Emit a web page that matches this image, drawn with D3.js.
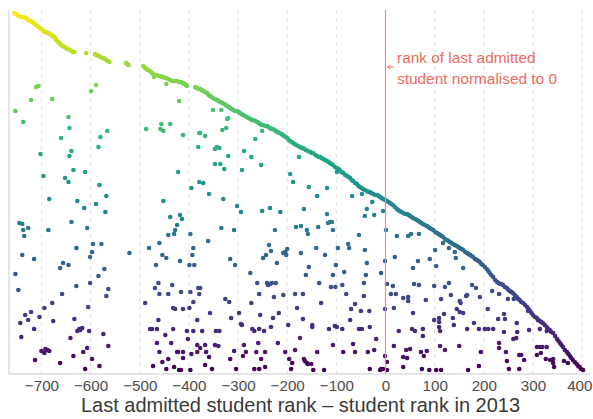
<!DOCTYPE html>
<html><head><meta charset="utf-8">
<script src="https://cdn.jsdelivr.net/npm/d3@7/dist/d3.min.js"></script>
<style>
html,body{margin:0;padding:0;background:#fff;}
svg{display:block;font-family:"Liberation Sans",Arial,sans-serif;}
</style></head>
<body>
<svg id="chart" width="593" height="419"></svg>
<script>
// x: last admitted student rank - student rank in 2013 ; y: position (unlabelled)
const xTicks = [-700,-600,-500,-400,-300,-200,-100,0,100,200,300,400];
const xTitle = "Last admitted student rank \u2013 student rank in 2013";
const noteLines = ["rank of last admitted", "student normalised to 0"];
const cutoff = 0;

// dense upper frontier of students
const envelopePoints = [
[-755,359],[-753,358],[-751,358],[-749,357],[-747,356],[-742,355],[-737,355],[-734,354],[-731,354],[-729,353],
[-727,352],[-724,351],[-721,351],[-719,350],[-717,349],[-714,348],[-711,347],[-708,346],[-706,345],[-703,344],
[-700,343],[-698,342],[-696,341],[-693,340],[-690,340],[-688,339],[-686,339],[-683,338],[-680,337],[-678,336],
[-676,336],[-674,335],[-672,334],[-670,332],[-668,331],[-666,330],[-664,329],[-662,328],[-660,327],[-658,326],
[-656,326],[-653,325],[-650,324],[-648,323],[-645,323],[-642,322],[-639,321],[-636,320],[-633,320],
[-609,319],[-591,318],[-589,317],[-587,317],[-584,316],[-580,315],[-577,314],[-574,314],[-571,313],[-568,312],
[-565,311],[-562,310],[-528,309],[-526,308],[-523,307],
[-493,306],[-491,305],[-489,304],[-486,303],[-483,302],[-480,301],[-477,300],[-475,299],[-473,298],[-471,295],
[-468,297],[-465,297],[-461,296],[-458,296],[-455,295],[-452,295],[-449,294],[-446,294],[-442,293],[-438,292],
[-434,291],[-430,291],[-427,291],[-424,291],[-420,290],[-416,290],[-414,289],[-412,289],[-410,288],[-408,288],
[-406,287],[-404,286],
[-387,285],[-385,284],[-383,284],[-380,283],[-377,283],[-374,282],[-371,281],[-367,280],[-363,279],[-360,277],
[-357,276],[-354,275],[-351,274],[-347,273],[-343,272],[-340,271],[-336,270],[-332,269],[-328,268],[-325,267],
[-322,266],[-319,265],[-316,264],[-313,263],[-310,262],[-306,261],[-302,261],[-299,260],[-296,259],[-293,258],
[-290,257],[-286,256],[-282,255],[-279,254],[-275,253],[-272,252],[-269,252],[-265,251],[-261,250],[-258,249],
[-255,248],[-252,247],[-249,247],[-245,246],[-241,246],[-238,245],[-235,244],[-232,243],[-229,243],[-226,242],
[-223,241],[-221,240],[-219,240],[-216,239],[-212,238],[-209,237],[-206,236],[-203,235],[-200,234],[-197,232],
[-194,231],[-191,230],[-188,229],[-185,228],[-182,227],[-178,226],[-174,225],[-171,224],[-168,224],[-165,223],
[-162,222],[-158,221],[-153,220],[-150,219],[-147,219],[-143,217],[-139,216],[-136,215],[-133,215],[-130,214],
[-127,213],[-123,212],[-119,211],[-116,210],[-113,209],[-110,208],[-107,207],[-103,205],[-99,204],[-96,203],
[-93,202],[-90,200],[-86,199],[-82,197],[-78,196],[-75,195],[-72,194],[-69,192],[-66,191],[-62,189],
[-58,188],[-55,186],[-52,185],[-49,184],[-46,183],[-42,182],[-38,181],[-35,180],[-32,180],[-29,179],
[-25,178],[-21,177],[-17,177],[-14,176],[-11,175],[-8,174],[-5,173],[-1,172],[3,171],[6,170],
[9,169],[12,168],[15,167],[19,165],[23,163],[26,162],[29,161],[32,160],[36,159],[40,158],
[44,158],[47,157],[50,156],[53,155],[56,154],[60,153],[64,152],[67,151],[70,150],[73,149],
[76,148],[80,147],[84,146],[87,145],[90,144],[93,143],[97,142],[101,140],[105,139],[108,138],
[111,137],[114,136],[117,135],[121,133],[125,132],[128,131],[131,130],[134,129],[137,128],[141,127],
[145,126],[148,125],[151,124],[155,123],[158,122],[162,120],[166,119],[169,118],[172,117],[175,116],
[178,115],[182,113],[186,112],[189,111],[192,110],[195,108],[198,107],[202,105],[206,103],[209,101],
[212,99],[215,97],[219,95],[223,92],[227,90],[230,89],[233,88],[236,88],[239,87],[243,85],
[247,84],[250,82],[253,81],[256,80],[259,79],[263,77],[267,75],[270,73],[273,72],[276,70],
[280,69],[284,67],[288,65],[291,63],[294,61],[297,59],[300,57],[304,55],[308,54],[311,52],
[314,51],[317,50],[320,49],[324,47],[328,45],[331,43],[334,42],[337,40],[341,39],[345,36],
[349,33],[352,31],[355,29],[358,27],[361,25],[365,22],[369,20],[372,18],[375,16],[378,14],
[381,12],[385,10],[389,8],[392,6],[395,5],[398,3],[402,2]
];

// students below the frontier
const scatterPoints = [
[-711,285],[-706,286],[-721,272],[-678,273],[-753,261],[-737,250],[-645,255],[-643,244],[-660,234],[-599,281],
[-589,287],[-580,235],[-566,241],[-487,243],[-456,248],[-458,243],[-452,241],[-438,248],[-446,288],[-420,271],
[-412,237],[-379,239],
[-702,218],[-639,221],[-643,216],[-584,225],[-381,225],[-696,196],[-635,202],[-611,200],[-652,194],[-645,190],
[-422,200],[-379,190],[-582,187],[-395,184],[-684,173],[-627,171],[-568,176],[-589,168],[-452,171],[-613,164],
[-570,160],[-418,157],[-414,153],[-438,155],[-745,149],[-739,148],[-727,144],[-737,142],[-639,150],[-686,142],
[-607,144],[-735,136],[-424,147],[-428,142],[-430,138],[-442,137],[-397,138],[-595,128],[-578,128],[-460,129],
[-629,124],[-481,124],[-391,124],[-597,120],[-601,115],[-739,117],[-715,113],[-521,119],[-454,117],[-446,114],
[-393,117],[-418,111],[-656,109],[-645,107],[-662,104],[-572,103],[-467,107],[-399,107],[-389,107],
[-753,98],[-747,82],[-629,86],[-601,89],[-584,96],[-658,78],[-564,83],[-568,76],[-678,69],[-694,64],
[-605,65],[-721,60],[-733,57],[-704,55],[-727,52],[-633,53],[-743,49],[-676,51],[-715,43],[-623,43],
[-627,41],[-617,44],[-621,42],[-603,41],[-741,35],[-574,38],[-641,34],[-564,26],[-607,24],[-692,23],
[-700,21],[-694,19],[-684,21],[-688,22],[-615,20],[-635,16],[-713,12],[-597,13],[-662,9],[-582,6],
[-611,3],[-489,69],[-469,84],[-462,89],[-460,78],[-442,78],[-434,87],[-416,80],[-397,80],[-381,84],
[-379,78],[-391,70],[-432,64],[-428,63],[-412,63],[-399,64],[-462,52],[-383,52],[-479,43],[-475,43],
[-465,43],[-448,37],[-432,43],[-404,41],[-391,41],[-465,29],[-436,29],[-402,33],[-383,27],[-460,20],
[-442,13],[-424,20],[-422,20],[-412,20],[-412,14],[-395,18],[-473,6],[-454,10],[-446,3],[-430,5],
[-420,2],[-416,2],[-397,2],
[-377,239],[-367,236],[-332,242],[-347,223],[-343,225],[-338,224],[-320,216],[-288,221],[-273,215],[-265,233],
[-251,241],[-347,208],[-336,208],[-328,203],[-292,202],[-253,207],[-176,215],[-194,198],[-188,190],[-371,189],
[-359,178],[-330,173],[-302,166],[-294,160],[-251,161],[-235,164],[-214,160],[-156,185],[-119,184],[-139,176],
[-166,163],[-119,158],[-117,149],[-113,150],[-109,150],[-99,200],[-68,176],[-48,178],[-27,170],[-38,163],
[-42,156],[-23,157],[-5,161],[-334,144],[-308,142],[-225,142],[-182,145],[-172,146],[-160,142],[-158,138],
[-137,145],[-107,142],[-54,137],[1,142],[-361,131],[-237,127],[-233,121],[-243,117],[-249,114],[-208,119],
[-204,120],[-200,123],[-202,117],[-172,119],[-141,124],[-123,117],[-97,124],[-74,124],[-76,128],[-42,122],
[-316,113],[-306,107],[-221,109],[-156,105],[-101,107],[-38,109],[-1,111],
[-351,262],[-334,262],[-320,254],[-322,253],[-324,244],
[-275,99],[-162,97],[-107,97],[-84,100],[-40,97],[-9,99],[-261,89],[-241,89],[-239,87],[-235,88],
[-231,89],[-223,89],[-377,84],[-257,78],[-227,75],[-208,77],[-184,78],[-168,78],[-135,89],[-111,85],
[-102,85],[-88,87],[-80,78],[-44,89],[-44,76],[-326,73],[-318,70],[-273,69],[-131,69],[-62,68],
[-70,63],[-1,63],[-357,59],[-298,59],[-255,57],[-217,59],[-180,64],[-50,61],[-33,61],[-314,54],
[-229,54],[-168,53],[-72,52],[-294,48],[-292,47],[-198,47],[-149,47],[-149,45],[-103,46],[-99,45],
[-32,45],[-271,43],[-267,41],[-257,43],[-247,41],[-233,45],[-373,41],[-345,41],[-338,41],[-174,34],
[-115,43],[-88,43],[-54,43],[-48,43],[-19,33],[-367,27],[-377,24],[-347,27],[-340,26],[-288,27],
[-259,29],[-219,29],[-107,27],[-66,28],[-383,20],[-365,20],[-308,21],[-284,20],[-263,20],[-245,20],
[-204,20],[-184,22],[-139,20],[-86,20],[-62,20],[-36,20],[-23,22],[-1,16],[-359,15],[-316,13],
[-290,16],[-253,13],[-196,13],[-166,13],[-190,9],[-164,11],[-160,9],[-158,8],[-151,8],[-367,7],
[-353,3],[-304,3],[-267,3],[-257,3],[-245,5],[-192,3],[-147,2],[-125,2],[-32,3],[-11,2],
[-9,3],[-5,3],[3,2],
[23,136],[46,136],[52,138],[68,138],[19,115],[66,111],[56,104],[90,113],[103,106],[101,122],
[117,129],[129,124],[141,120],[143,114],[158,104],
[3,88],[15,86],[11,78],[21,78],[17,64],[36,74],[46,75],[46,71],[58,88],[68,87],
[99,86],[129,89],[121,85],[133,77],[113,73],[82,72],[56,59],[99,52],[109,54],[119,58],
[137,54],[145,63],[151,60],[153,69],[151,71],[164,76],[166,77],[176,87],[184,84],[192,75],
[208,63],[217,81],[231,78],[249,73],[261,73],[229,53],[241,58],[243,53],[267,49],[290,61],
[310,52],[314,43],[292,42],[328,41],[268,40],[260,33],[266,34],[241,40],[219,43],[202,43],
[209,43],[190,43],[180,49],[166,43],[158,59],[139,47],[109,45],[111,41],[109,50],[76,43],
[76,36],[60,41],[54,43],[27,41],[17,26],[42,22],[50,23],[44,14],[36,15],[36,5],
[3,10],[72,20],[84,21],[78,16],[111,26],[121,22],[150,26],[194,20],[231,29],[231,24],
[245,20],[247,11],[251,3],[272,17],[276,17],[282,12],[272,3],[308,25],[314,25],[319,25],
[308,17],[316,19],[328,25],[326,13],[335,12],[341,13],[341,9],[343,5],[363,11],[371,9],
[74,3],[89,2],[103,2],[113,2],[168,2],[190,6]
];

(function () {
const W = 593;
const svg = d3.select("#chart");
const pLeft = 9, pRight = 590, pTop = 10, pBottom = 374;

const x = d3.scaleLinear().domain([-766, 416]).range([pLeft, pRight]);
const y = d3.scaleLinear().domain([0, 360]).range([372, 12]);
const color = d3.scaleSequential(d3.interpolateViridis).domain([0, 359]);

// grid
svg.append("g").selectAll("line").data(xTicks).join("line")
  .attr("x1", d => x(d)).attr("x2", d => x(d))
  .attr("y1", pTop).attr("y2", pBottom)
  .attr("stroke", "#e3e3e3").attr("stroke-width", 1)
  .attr("stroke-dasharray", "4,4");

// axis lines (left & bottom)
svg.append("line").attr("x1", pLeft).attr("x2", pLeft).attr("y1", pTop).attr("y2", pBottom)
  .attr("stroke", "#dcdcdc").attr("stroke-width", 1.5);
svg.append("line").attr("x1", pLeft).attr("x2", pRight).attr("y1", pBottom).attr("y2", pBottom)
  .attr("stroke", "#dcdcdc").attr("stroke-width", 1.5);

// x axis labels
const axis = d3.axisBottom(x).tickValues(xTicks).tickSize(0).tickPadding(6.5)
  .tickFormat(d => d < 0 ? "\u2212" + Math.abs(d) : String(d));
const gx = svg.append("g").attr("transform", `translate(0,${pBottom})`).call(axis);
gx.select(".domain").remove();
gx.selectAll("text").attr("font-size", 15.2).attr("fill", "#4d4d4d")
  .attr("font-family", "'Liberation Sans',Arial,sans-serif");
// keep the right-most label inside the picture
gx.selectAll("text").each(function () {
  const b = this.getBBox();
  const ctm = this.parentNode.getCTM();
  const right = ctm.e + b.x + b.width;
  if (right > W - 0.5) d3.select(this).attr("dx", -(right - (W - 0.5)));
});

// points
const allPts = scatterPoints.concat(envelopePoints);
svg.append("g").selectAll("circle").data(allPts).join("circle")
  .attr("cx", d => x(d[0])).attr("cy", d => y(d[1]))
  .attr("r", 2.3)
  .attr("fill", d => color(d[1]));

// cutoff line
svg.append("line").attr("x1", x(cutoff)).attr("x2", x(cutoff)).attr("y1", pTop).attr("y2", pBottom)
  .attr("stroke", "#ef8d86").attr("stroke-width", 1.2);

// annotation
const noteColor = "#ee6b5e";
const gn = svg.append("g");
gn.selectAll("text").data(noteLines).join("text")
  .attr("x", x(cutoff) + 11.5).attr("y", (d, i) => 62.5 + i * 21.5)
  .attr("font-size", 15.4).attr("fill", noteColor).text(d => d);
gn.append("line").attr("x1", x(cutoff) + 8).attr("x2", x(cutoff) + 2.5)
  .attr("y1", 67).attr("y2", 67).attr("stroke", noteColor).attr("stroke-width", 1);
gn.append("path").attr("d", `M${x(cutoff)+2},67 l3,-2 M${x(cutoff)+2},67 l3,2`)
  .attr("stroke", noteColor).attr("stroke-width", 1).attr("fill", "none");

// x title
svg.append("text").attr("x", 300.5).attr("y", 412)
  .attr("text-anchor", "middle").attr("font-size", 20).attr("fill", "#3a3a3a")
  .text(xTitle);
})();
</script>
</body></html>
